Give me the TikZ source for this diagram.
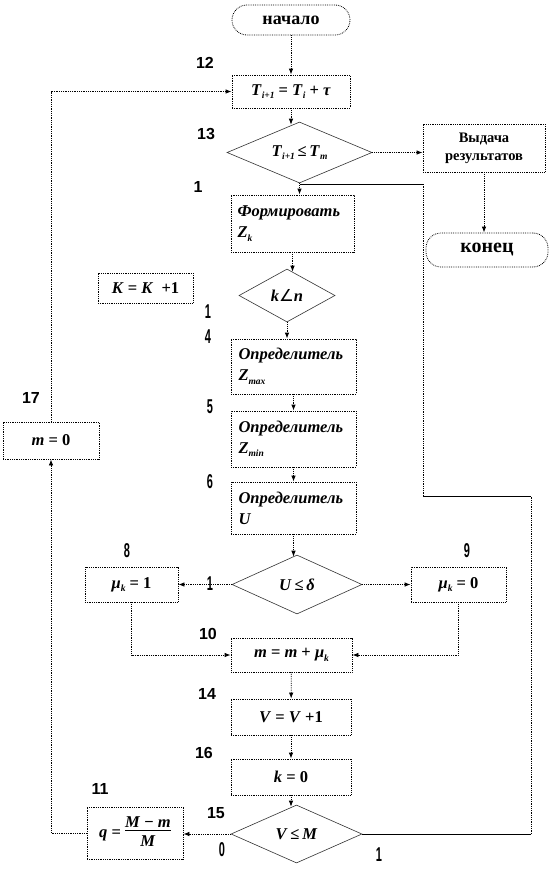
\documentclass[tikz,border=0pt]{standalone}
\usepackage{fontspec}
\usepackage{graphicx}
\setmainfont{Liberation Serif}
\newfontfamily\lblfont{Liberation Sans}
\newfontfamily\symfont{DejaVu Sans}
\usetikzlibrary{shapes.geometric,arrows.meta}
\newcommand\mi[1]{\textbf{\textit{#1}}}
\newcommand\sbs[1]{\raisebox{-0.45ex}{\fontsize{9.5}{10}\selectfont\bfseries\itshape #1}}
\newcommand\nar[1]{\scalebox{0.55}[1]{#1}}
\begin{document}
\begin{tikzpicture}[x=1pt,y=-1pt,
  box/.style={draw=black, line width=0.8pt, densely dotted, fill=white, inner sep=2pt,
    font=\fontsize{16.5}{19}\selectfont\bfseries},
  term/.style={box, rounded corners=15pt},
  dia/.style={diamond, draw=black!80, line width=0.6pt, fill=white, inner sep=0pt,
    font=\fontsize{16.5}{19}\selectfont\bfseries},
  con/.style={draw=black, line width=0.8pt, densely dotted, -{Latex[length=6pt,width=4.5pt]}},
  dline/.style={draw=black, line width=0.8pt, densely dotted},
  sline/.style={draw=black, line width=0.8pt},
  lbl/.style={inner sep=0pt, font=\lblfont\fontsize{16}{16}\selectfont\bfseries},
  nlbl/.style={inner sep=0pt, font=\lblfont\fontsize{20}{20}\selectfont\bfseries}
]
\useasboundingbox (0,0) rectangle (552,870);
\fill[white] (0,0) rectangle (552,870);

% nodes
\node[term, minimum width=118pt, minimum height=30pt, font=\fontsize{18}{20}\selectfont\bfseries] (start) at (291,20) {начало};
\node[box, minimum width=118pt, minimum height=33pt] (T) at (291,91.5) {\mi{T}\sbs{i+1}\ =\ \mi{T}\sbs{i}\ +\ \mi{τ}};
\node[dia, minimum width=145pt, minimum height=61pt, aspect=2.38] (D13) at (299.5,152.5) {\mi{T}\sbs{i+1}\,≤\,\mi{T}\sbs{m}};
\node[box, minimum width=122pt, minimum height=48pt, align=center,
  font=\fontsize{14.5}{18}\selectfont\bfseries] (out) at (484,148) {Выдача\\результатов};
\node[term, minimum width=122pt, minimum height=34pt, font=\fontsize{20}{22}\selectfont\bfseries] (end) at (487,250) {конец};
\node[box, minimum width=123pt, minimum height=57pt, text width=110pt, align=left] (F) at (292.5,223.5) {\mi{Формировать}\\[2pt]\mi{Z}\sbs{k}};
\node[box, minimum width=95pt, minimum height=30pt] (K) at (145.5,288) {\mi{K} = \mi{K}\ \ +1};
\node[dia, minimum width=96pt, minimum height=53pt, aspect=1.81] (Dkn) at (287,295.5) {\mi{k}{\symfont\mdseries ∠}\mi{n}};
\node[box, minimum width=125pt, minimum height=55pt, text width=110pt, align=left] (Zmax) at (293.5,366.5) {\mi{Определитель}\\[2pt]\mi{Z}\sbs{max}};
\node[box, minimum width=125pt, minimum height=56pt, text width=110pt, align=left] (Zmin) at (293.5,439) {\mi{Определитель}\\[2pt]\mi{Z}\sbs{min}};
\node[box, minimum width=125pt, minimum height=52pt, text width=110pt, align=left] (U) at (293.5,508) {\mi{Определитель}\\[2pt]\mi{U}};
\node[dia, minimum width=130pt, minimum height=59pt, aspect=2.2] (DU) at (297,584.5) {\mi{U}\,≤\,\mi{δ}};
\node[box, minimum width=93pt, minimum height=35pt] (mu1) at (131.5,584.5) {\mi{μ}\sbs{k} = 1};
\node[box, minimum width=95pt, minimum height=35pt] (mu0) at (458.5,584.5) {\mi{μ}\sbs{k} = 0};
\node[box, minimum width=121pt, minimum height=34pt] (mm) at (291.5,655) {\mi{m} = \mi{m} + \mi{μ}\sbs{k}};
\node[box, minimum width=120pt, minimum height=36pt] (V) at (291,717) {\mi{V} = \mi{V} +1};
\node[box, minimum width=120pt, minimum height=36pt] (k0) at (291,777) {\mi{k} = 0};
\node[dia, minimum width=131pt, minimum height=58pt, aspect=2.26] (DVM) at (296.5,834) {\mi{V}\,≤\,\mi{M}};
\node[box, minimum width=96pt, minimum height=52pt] (q) at (135,833) {\mi{q} = \begin{tabular}{@{}c@{}}\mi{M} − \mi{m}\\[-3pt]\hline\rule{0pt}{16pt}\mi{M}\end{tabular}};
\node[box, minimum width=96pt, minimum height=37pt] (m0) at (51,440.5) {\mi{m} = 0};

% coordinates for the feedback line
\coordinate (R1) at (531,496);
\coordinate (R2) at (423,496);
\coordinate (R3) at (423,184);
\coordinate (J) at (299.5,184);

% connectors
\draw[con] (start) -- (T);
\draw[con] (T.south) -- ([yshift=-3pt]T.south |- D13.north);
\draw[con] (D13.east) -- (D13.east -| out.west);
\draw[con] (out.south) -- (out.south |- end.north);
\draw[con] (D13.south) -- (D13.south |- F.north);
\draw[con] (F.south) -- ([yshift=-3pt]F.south |- Dkn.north);
\draw[con] (Dkn.south) -- (Dkn.south |- Zmax.north);
\draw[con] (Zmax) -- (Zmin);
\draw[con] (Zmin) -- (U);
\draw[con] (U.south) -- ([yshift=-2pt]U.south |- DU.north);
\draw[con] (DU.west) -- (mu1.east);
\draw[con] (DU.east) -- (mu0.west);
\draw[con] (mu1.south) -- (mu1.south |- mm.west) -- (mm.west);
\draw[con] (mu0.south) -- (mu0.south |- mm.east) -- (mm.east);
\draw[con] (mm) -- (V);
\draw[con] (V) -- (k0);
\draw[con] (k0.south) -- ([yshift=-2pt]k0.south |- DVM.north);
\draw[con] (DVM.west) -- (DVM.west -| q.east);
\draw[con] (q.west) -- (q.west -| m0.south) -- (m0.south);
\draw[con] (m0.north) -- (m0.north |- T.west) -- (T.west);
\draw[sline] (DVM.east) -- (DVM.east -| R1);
\draw[dline] (DVM.east -| R1) -- (R1);
\draw[sline] (R1) -- (R2);
\draw[dline] (R2) -- (R3);
\draw[sline] (R3) -- (J);

% labels
\node[lbl] (l12) at (205,63) {12};
\node[lbl] (l13) at (206,134) {13};
\node[lbl] (l1a) at (198,187) {1};
\node[nlbl] (l1b) at (208,312) {\nar{1}};
\node[nlbl] (l4) at (208,337) {\nar{4}};
\node[nlbl] (l5) at (210,407) {\nar{5}};
\node[nlbl] (l6) at (210,482) {\nar{6}};
\node[lbl] (l17) at (31,398) {17};
\node[nlbl] (l8) at (127,551) {\nar{8}};
\node[nlbl] (l9) at (467,551) {\nar{9}};
\node[nlbl] (l1c) at (210,584) {\nar{1}};
\node[lbl] (l10) at (208,634) {10};
\node[lbl] (l14) at (207,694) {14};
\node[lbl] (l16) at (204,753) {16};
\node[lbl] (l11) at (100,789) {11};
\node[lbl] (l15) at (216,813) {15};
\node[nlbl] (l0) at (222,850) {\nar{0}};
\node[nlbl] (l1d) at (379,855) {\nar{1}};
\end{tikzpicture}
\end{document}
